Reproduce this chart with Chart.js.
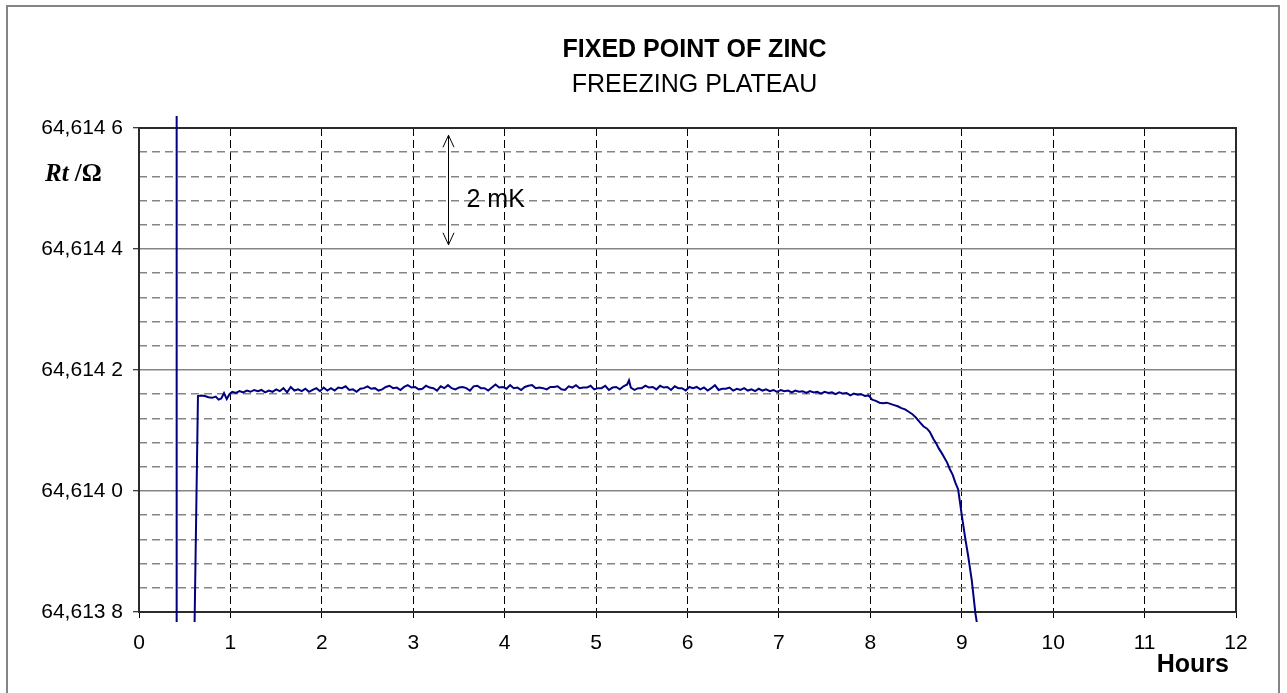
<!DOCTYPE html>
<html>
<head>
<meta charset="utf-8">
<title>Fixed point of zinc – freezing plateau</title>
<script src="https://cdn.jsdelivr.net/npm/chart.js@4.4.1/dist/chart.umd.min.js"></script>
<style>
  html, body { margin: 0; padding: 0; background: #fff; }
  canvas { display: block; }
</style>
</head>
<body>
<canvas id="plateau" width="1287" height="693"></canvas>
<script>
// Furnace switch-over marker (hours, ohms)
const markerHours = [0.412, 0.412];
const markerOhms = [64.6150, 64.6136];

// Thermometer resistance Rt during the freeze (hours, ohms)
const hours = [
  0.600, 0.645, 0.68, 0.72, 0.76, 0.80, 0.84, 0.87, 0.90, 0.93,
  0.96, 0.99, 1.02, 1.06, 1.10, 1.14, 1.18, 1.22, 1.26, 1.30,
  1.34, 1.38, 1.42, 1.46, 1.50, 1.54, 1.58, 1.62, 1.66, 1.70,
  1.74, 1.78, 1.82, 1.86, 1.90, 1.94, 1.98, 2.02, 2.06, 2.10,
  2.14, 2.18, 2.22, 2.26, 2.30, 2.34, 2.38, 2.42, 2.46, 2.50,
  2.54, 2.58, 2.62, 2.66, 2.70, 2.74, 2.78, 2.82, 2.86, 2.90,
  2.94, 2.98, 3.02, 3.06, 3.10, 3.14, 3.18, 3.22, 3.26, 3.30,
  3.34, 3.38, 3.42, 3.46, 3.50, 3.54, 3.58, 3.62, 3.66, 3.70,
  3.74, 3.78, 3.82, 3.86, 3.90, 3.94, 3.98, 4.02, 4.06, 4.10,
  4.14, 4.18, 4.22, 4.26, 4.30, 4.34, 4.38, 4.42, 4.46, 4.50,
  4.54, 4.58, 4.62, 4.66, 4.70, 4.74, 4.78, 4.82, 4.86, 4.90,
  4.94, 4.98, 5.02, 5.06, 5.10, 5.14, 5.18, 5.22, 5.26, 5.30,
  5.34, 5.36, 5.38, 5.42, 5.46, 5.50, 5.54, 5.58, 5.62, 5.66,
  5.70, 5.74, 5.78, 5.82, 5.86, 5.90, 5.94, 5.98, 6.02, 6.06,
  6.10, 6.14, 6.18, 6.22, 6.26, 6.30, 6.34, 6.38, 6.42, 6.46,
  6.50, 6.54, 6.58, 6.62, 6.66, 6.70, 6.74, 6.78, 6.82, 6.86,
  6.90, 6.94, 6.98, 7.02, 7.06, 7.10, 7.14, 7.18, 7.22, 7.26,
  7.30, 7.34, 7.38, 7.42, 7.46, 7.50, 7.54, 7.58, 7.62, 7.66,
  7.70, 7.74, 7.78, 7.82, 7.86, 7.90, 7.94, 7.98, 8.02, 8.06,
  8.10, 8.14, 8.18, 8.22, 8.26, 8.30, 8.34, 8.38, 8.42, 8.46,
  8.50, 8.54, 8.58, 8.62, 8.65, 8.69, 8.72, 8.75, 8.78, 8.81,
  8.84, 8.87, 8.90, 8.93, 8.96, 8.98, 9.00, 9.04, 9.07, 9.11,
  9.15, 9.17
];
const ohms = [
  64.613700, 64.614157, 64.614158, 64.614157, 64.614155, 64.614154, 64.614156, 64.614151, 64.614153, 64.614162,
  64.614152, 64.614160, 64.614164, 64.614162, 64.614165, 64.614163, 64.614166, 64.614164, 64.614167, 64.614165,
  64.614167, 64.614163, 64.614166, 64.614164, 64.614168, 64.614165, 64.614170, 64.614163, 64.614172, 64.614166,
  64.614168, 64.614165, 64.614169, 64.614164, 64.614167, 64.614170, 64.614165, 64.614171, 64.614166, 64.614170,
  64.614166, 64.614171, 64.614170, 64.614173, 64.614167, 64.614168, 64.614164, 64.614169, 64.614170, 64.614173,
  64.614169, 64.614170, 64.614166, 64.614168, 64.614172, 64.614174, 64.614170, 64.614171, 64.614167, 64.614172,
  64.614175, 64.614171, 64.614172, 64.614168, 64.614169, 64.614174, 64.614171, 64.614170, 64.614166, 64.614173,
  64.614170, 64.614175, 64.614170, 64.614168, 64.614171, 64.614172, 64.614170, 64.614166, 64.614173, 64.614174,
  64.614170, 64.614170, 64.614166, 64.614171, 64.614176, 64.614171, 64.614172, 64.614169, 64.614175, 64.614170,
  64.614171, 64.614167, 64.614172, 64.614174, 64.614175, 64.614170, 64.614171, 64.614170, 64.614168, 64.614172,
  64.614172, 64.614173, 64.614168, 64.614167, 64.614173, 64.614171, 64.614175, 64.614170, 64.614171, 64.614171,
  64.614174, 64.614168, 64.614170, 64.614170, 64.614174, 64.614167, 64.614171, 64.614172, 64.614168, 64.614173,
  64.614176, 64.614183, 64.614171, 64.614167, 64.614170, 64.614170, 64.614174, 64.614171, 64.614172, 64.614168,
  64.614174, 64.614171, 64.614172, 64.614167, 64.614173, 64.614170, 64.614170, 64.614166, 64.614172, 64.614170,
  64.614172, 64.614168, 64.614171, 64.614166, 64.614170, 64.614175, 64.614167, 64.614169, 64.614169, 64.614171,
  64.614166, 64.614169, 64.614167, 64.614170, 64.614166, 64.614168, 64.614165, 64.614169, 64.614166, 64.614168,
  64.614165, 64.614167, 64.614164, 64.614167, 64.614165, 64.614166, 64.614163, 64.614166, 64.614164, 64.614165,
  64.614162, 64.614165, 64.614163, 64.614164, 64.614161, 64.614164, 64.614162, 64.614163, 64.614160, 64.614163,
  64.614161, 64.614162, 64.614158, 64.614161, 64.614159, 64.614160, 64.614157, 64.614158, 64.614151, 64.614149,
  64.614146, 64.614145, 64.614146, 64.614144, 64.614142, 64.614140, 64.614137, 64.614135, 64.614131, 64.614127,
  64.614121, 64.614114, 64.614107, 64.614103, 64.614098, 64.614086, 64.614079, 64.614070, 64.614063, 64.614055,
  64.614047, 64.614036, 64.614027, 64.614014, 64.614003, 64.613982, 64.613960, 64.613920, 64.613893, 64.613852,
  64.613797, 64.613778
];

// Axis ticks
const hourTicks = [0, 1, 2, 3, 4, 5, 6, 7, 8, 9, 10, 11, 12];
const ohmTicks = [64.6138, 64.6140, 64.6142, 64.6144, 64.6146];
const ohmTickLabels = ['64,613 8', '64,614 0', '64,614 2', '64,614 4', '64,614 6'];
const ohmMinorStep = 0.00004;

// 2 mK span marker (hours, ohms)
const spanHour = 3.38;
const spanTop = 64.614588;
const spanBottom = 64.614407;

const SANS = "'Liberation Sans', Arial, Helvetica, sans-serif";
const SERIF = "'Liberation Serif', 'Times New Roman', serif";
const LINE_BLUE = '#000080';

const majorIndex = v => ohmTicks.findIndex(t => Math.abs(t - v) < 1e-9);
const isMajor = ctx => ctx.tick ? majorIndex(ctx.tick.value) >= 0 : true;

const toPoints = (xs, ys) => xs.map((x, i) => ({ x, y: ys[i] }));

const decor = {
  id: 'decor',
  beforeDraw(chart) {
    const { ctx, width, height } = chart;
    ctx.save();
    ctx.fillStyle = '#fff';
    ctx.fillRect(0, 0, width, height);
    ctx.restore();
  },
  beforeDatasetsDraw(chart) {
    const { ctx, chartArea: a } = chart;
    ctx.save();
    // plot frame
    ctx.strokeStyle = '#2b2b2b';
    ctx.lineWidth = 2;
    ctx.strokeRect(a.left, a.top, a.right - a.left, a.bottom - a.top);
    ctx.restore();
  },
  afterDraw(chart) {
    const { ctx, chartArea: a, scales } = chart;
    const cx = (a.left + a.right) / 2 + 7;
    ctx.save();
    // outer chart border
    ctx.strokeStyle = '#858585';
    ctx.lineWidth = 2;
    ctx.strokeRect(7, 6, 1272, 720);

    // titles
    ctx.fillStyle = '#000';
    ctx.textAlign = 'center';
    ctx.textBaseline = 'alphabetic';
    ctx.font = 'bold 25px ' + SANS;
    ctx.fillText('FIXED POINT OF ZINC', cx, 57);
    ctx.font = '25px ' + SANS;
    ctx.fillText('FREEZING PLATEAU', cx, 92);

    // axis titles
    ctx.textAlign = 'left';
    ctx.font = 'italic bold 25px ' + SERIF;
    ctx.fillText('Rt', 45, 181);
    const rtW = ctx.measureText('Rt').width;
    ctx.font = 'bold 25px ' + SERIF;
    ctx.fillText(' /\u03A9', 45 + rtW, 181);

    ctx.textAlign = 'right';
    ctx.font = 'bold 25px ' + SANS;
    ctx.fillText('Hours', 1229, 672);

    // 2 mK span arrow
    const x = Math.round(scales.x.getPixelForValue(spanHour)) + 0.5;
    const y1 = scales.y.getPixelForValue(spanTop);
    const y2 = scales.y.getPixelForValue(spanBottom);
    ctx.strokeStyle = '#000';
    ctx.lineWidth = 1;
    ctx.beginPath();
    ctx.moveTo(x, y1); ctx.lineTo(x, y2);
    ctx.moveTo(x - 5.5, y1 + 12); ctx.lineTo(x, y1); ctx.lineTo(x + 5.5, y1 + 12);
    ctx.moveTo(x - 5.5, y2 - 12); ctx.lineTo(x, y2); ctx.lineTo(x + 5.5, y2 - 12);
    ctx.stroke();
    ctx.textAlign = 'left';
    ctx.font = '25px ' + SANS;
    ctx.fillText('2 mK', x + 18, (y1 + y2) / 2 + 17);
    ctx.restore();
  }
};

const lineStyle = {
  borderColor: LINE_BLUE,
  backgroundColor: LINE_BLUE,
  borderWidth: 2,
  pointRadius: 0,
  tension: 0,
  fill: false,
  clip: { left: 0, top: 12, right: 0, bottom: 10 }
};

new Chart(document.getElementById('plateau'), {
  type: 'line',
  data: {
    datasets: [
      Object.assign({ label: 'marker', data: toPoints(markerHours, markerOhms) }, lineStyle),
      Object.assign({ label: 'Rt', data: toPoints(hours, ohms) }, lineStyle)
    ]
  },
  options: {
    responsive: false,
    animation: false,
    events: [],
    layout: { padding: { left: 0, right: 51, top: 128, bottom: 0 } },
    plugins: {
      legend: { display: false },
      tooltip: { enabled: false },
      title: { display: false }
    },
    scales: {
      x: {
        type: 'linear',
        min: hourTicks[0],
        max: hourTicks[hourTicks.length - 1],
        afterFit: s => { s.height = 81; },
        afterBuildTicks: s => { s.ticks = hourTicks.map(v => ({ value: v })); },
        ticks: {
          autoSkip: false,
          maxRotation: 0,
          padding: 13,
          color: '#000',
          font: { family: SANS, size: 21 },
          callback: v => String(v)
        },
        grid: {
          color: ctx => (ctx.tick && (ctx.tick.value === hourTicks[0] || ctx.tick.value === hourTicks[hourTicks.length - 1])) ? 'rgba(0,0,0,0)' : '#000',
          lineWidth: 1,
          tickLength: 6,
          tickColor: '#000',
          tickWidth: 1
        },
        border: { display: false, dash: [8, 4] }
      },
      y: {
        type: 'linear',
        min: ohmTicks[0],
        max: ohmTicks[ohmTicks.length - 1],
        afterFit: s => { s.width = 139; },
        ticks: {
          stepSize: ohmMinorStep,
          autoSkip: false,
          padding: 10,
          color: '#000',
          font: { family: SANS, size: 21 },
          callback: v => { const i = majorIndex(v); return i >= 0 ? ohmTickLabels[i] : ''; }
        },
        grid: {
          color: '#858585',
          lineWidth: 1.5,
          tickLength: 6,
          tickColor: ctx => isMajor(ctx) ? '#000' : 'rgba(0,0,0,0)',
          tickWidth: 1
        },
        border: { display: false, dash: ctx => isMajor(ctx) ? [] : [8, 5] }
      }
    }
  },
  plugins: [decor]
});
</script>
</body>
</html>
